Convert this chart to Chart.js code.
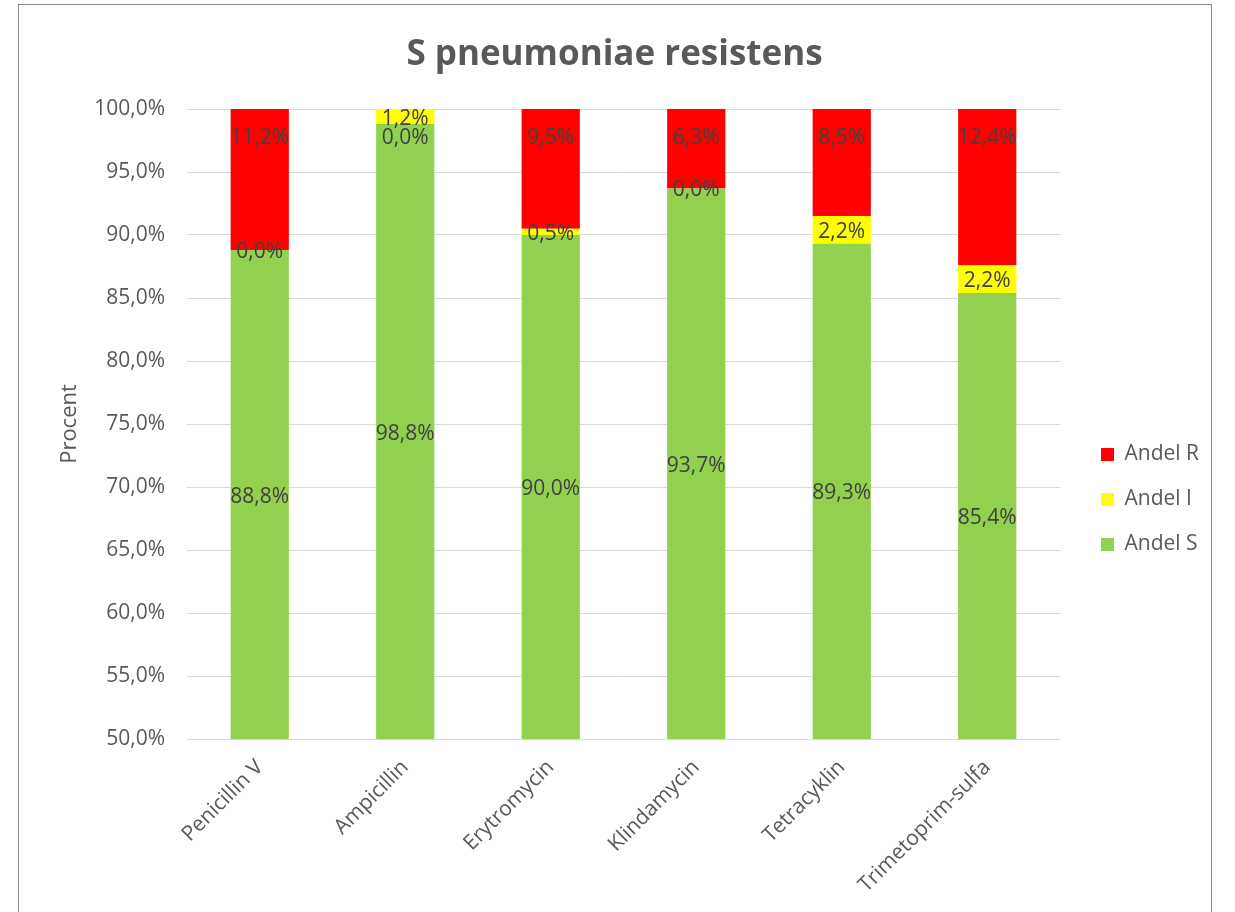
<!DOCTYPE html>
<html>
<head>
<meta charset="utf-8">
<script src="https://cdn.jsdelivr.net/npm/chart.js@4"></script>
<style>
  html, body { margin: 0; padding: 0; background: #fff; overflow: hidden; }
  #box {
    position: absolute; left: 18px; top: 4px;
    width: 1192px; height: 920px;
    border: 1px solid #8c8c8c; background: #fff;
  }
  #wrap { position: absolute; left: 0; top: 0; width: 1192px; height: 907px; }
</style>
</head>
<body>
<div id="box"><div id="wrap"><canvas id="chart"></canvas></div></div>
<script>
// Kategorier og andeler (prosent)
const antibiotika = ["Penicillin V", "Ampicillin", "Erytromycin", "Klindamycin", "Tetracyklin", "Trimetoprim-sulfa"];
const andelS = [88.8, 98.8, 90.0, 93.7, 89.3, 85.4];
const andelI = [0.0, 1.2, 0.5, 0.0, 2.2, 2.2];
const andelR = [11.2, 0.0, 9.5, 6.3, 8.5, 12.4];

const FONT = "'Open Sans', 'Noto Sans', sans-serif";
const fmt = v => v.toFixed(1).replace(".", ",") + "%";

// Dataetiketter midt i synlig del av hvert segment
const labelPlugin = {
    id: "segmentLabels",
    afterDatasetsDraw(chart) {
        const ctx = chart.ctx;
        const area = chart.chartArea;
        ctx.save();
        ctx.font = "21px " + FONT;
        ctx.fillStyle = "#404040";
        ctx.textAlign = "center";
        ctx.textBaseline = "middle";
        chart.data.datasets.forEach((ds, di) => {
            const meta = chart.getDatasetMeta(di);
            meta.data.forEach((bar, i) => {
                const top = Math.max(Math.min(bar.y, bar.base), area.top);
                const bottom = Math.min(Math.max(bar.y, bar.base), area.bottom);
                let y = (top + bottom) / 2 + 2;
                if (ds.label === "Andel R") y = top + 29;
                ctx.fillText(fmt(ds.data[i]), bar.x, y);
            });
        });
        ctx.restore();
    }
};

// Flytt forklaring og tittel litt
const boxShift = {
    id: "boxShift",
    afterLayout(chart) {
        const lg = chart.legend;
        lg.left += 17; lg.right += 17;
        lg.top += 41; lg.bottom += 41;
        const t = chart.titleBlock;
        t.left += 9; t.right += 9;
    }
};

new Chart(document.getElementById("chart"), {
    type: "bar",
    data: {
        labels: antibiotika,
        datasets: [
            { label: "Andel S", data: andelS, backgroundColor: "#92D050" },
            { label: "Andel I", data: andelI, backgroundColor: "#FFFF00" },
            { label: "Andel R", data: andelR, backgroundColor: "#FF0000" }
        ]
    },
    options: {
        responsive: true,
        maintainAspectRatio: false,
        animation: false,
        barPercentage: 0.4,
        categoryPercentage: 1,
        layout: { padding: { left: 0, right: 19, top: 0, bottom: 0 } },
        plugins: {
            title: {
                display: true,
                text: "S pneumoniae resistens",
                color: "#595959",
                font: { family: FONT, size: 35, weight: "bold" },
                padding: { top: 29, bottom: 33 }
            },
            legend: {
                position: "right",
                reverse: true,
                labels: {
                    boxWidth: 13,
                    boxHeight: 13,
                    padding: 24,
                    color: "#595959",
                    font: { family: FONT, size: 21 }
                }
            },
            tooltip: { enabled: false }
        },
        scales: {
            x: {
                stacked: true,
                grid: { display: false, drawTicks: false },
                border: { color: "#d9d9d9", width: 1 },
                ticks: {
                    color: "#595959",
                    font: { family: FONT, size: 21 },
                    maxRotation: 45,
                    minRotation: 45,
                    padding: 16
                },
                afterFit: s => { s.height = 173; }
            },
            y: {
                stacked: true,
                min: 50,
                max: 100,
                grid: { color: "#d9d9d9", drawTicks: false },
                border: { display: false },
                ticks: {
                    stepSize: 5,
                    color: "#595959",
                    font: { family: FONT, size: 21 },
                    padding: 22,
                    callback: v => fmt(v)
                },
                title: {
                    display: true,
                    text: "Procent",
                    color: "#595959",
                    font: { family: FONT, size: 22 },
                    padding: { top: 38, bottom: 8 }
                },
                afterFit: s => { s.width = 168; }
            }
        }
    },
    plugins: [labelPlugin, boxShift]
});
</script>
</body>
</html>
